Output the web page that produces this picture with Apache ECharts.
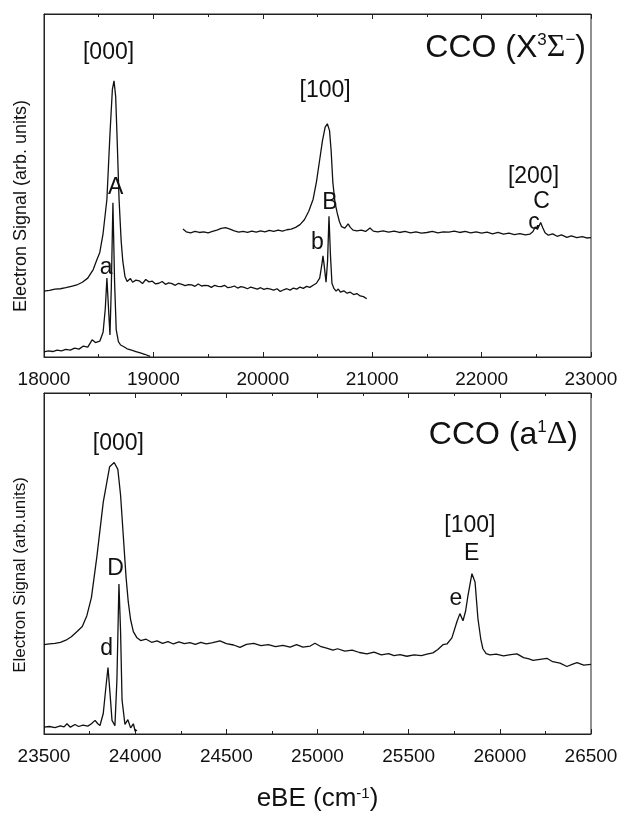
<!DOCTYPE html>
<html>
<head>
<meta charset="utf-8">
<script src="https://cdn.jsdelivr.net/npm/echarts@6/dist/echarts.min.js"></script>
<style>
  html, body { margin: 0; padding: 0; background: #fff; }
  #chart { width: 621px; height: 813px; }
</style>
</head>
<body>
<div id="chart"></div>
<script>
// ---- data (eBE in cm-1, signal in arb. units 0..100) ----

// upper panel, CCO (X) : broad [000] trace with the sharp b / B pair
var xTopMain = [18000, 18050, 18100, 18150, 18200, 18250, 18300, 18350, 18400, 18450, 18485, 18510, 18540, 18575, 18603, 18625, 18640, 18655, 18667, 18686, 18705, 18720, 18740, 18760, 18790, 18810, 18840, 18870, 18900, 18930, 18960, 18990, 19020, 19050, 19080, 19110, 19140, 19170, 19200, 19230, 19260, 19290, 19320, 19350, 19380, 19410, 19440, 19470, 19500, 19530, 19560, 19590, 19620, 19650, 19680, 19710, 19740, 19770, 19800, 19830, 19860, 19890, 19920, 19950, 19980, 20010, 20040, 20070, 20100, 20130, 20160, 20190, 20220, 20250, 20280, 20310, 20340, 20370, 20400, 20430, 20460, 20490, 20520, 20540, 20550, 20560, 20578, 20592, 20605, 20618, 20632, 20650, 20670, 20690, 20710, 20740, 20770, 20800, 20830, 20860, 20890, 20920, 20950];
var yTopMain = [19.2, 19.4, 19.8, 19.9, 20.2, 20.6, 21.0, 21.8, 23.0, 25.5, 28.5, 30.5, 36, 46, 65, 78, 80.5, 76, 65, 46, 34, 28, 23.5, 22.0, 22.9, 21.8, 22.4, 22.2, 21.4, 22.6, 21.9, 22.1, 21.3, 21.5, 22.0, 21.2, 21.6, 21.4, 20.9, 21.5, 21.2, 20.8, 21.1, 21.0, 20.6, 21.3, 20.7, 20.9, 20.8, 20.3, 20.9, 20.6, 20.5, 20.9, 20.2, 20.4, 20.7, 20.1, 20.5, 20.3, 19.9, 20.4, 20.1, 19.8, 20.2, 19.7, 20.0, 19.8, 19.5, 19.9, 19.1, 19.6, 19.9, 19.5, 20.1, 19.8, 20.4, 20.0, 20.6, 20.3, 20.9, 21.5, 23, 27, 29.5, 27, 21.8, 28, 41, 30, 21.5, 20.0, 19.2, 19.8, 18.9, 19.3, 18.6, 18.9, 18.2, 18.5, 17.8, 17.6, 17.0];

// upper panel: higher trace with the broad [100] and the small [200] C / c
var xTopHigh = [19270, 19300, 19340, 19380, 19420, 19460, 19500, 19540, 19580, 19620, 19660, 19700, 19740, 19780, 19820, 19860, 19900, 19940, 19980, 20020, 20060, 20100, 20140, 20180, 20220, 20260, 20300, 20340, 20380, 20420, 20460, 20490, 20520, 20545, 20570, 20590, 20610, 20625, 20640, 20660, 20680, 20700, 20720, 20750, 20780, 20800, 20825, 20860, 20900, 20940, 20980, 21010, 21050, 21100, 21150, 21200, 21250, 21300, 21350, 21400, 21450, 21500, 21550, 21600, 21650, 21700, 21750, 21800, 21850, 21900, 21950, 22000, 22050, 22100, 22150, 22200, 22250, 22300, 22350, 22400, 22440, 22470, 22490, 22510, 22540, 22560, 22580, 22610, 22650, 22690, 22730, 22780, 22820, 22870, 22920, 22960, 23000];
var yTopHigh = [37.3, 36.5, 36.2, 36.6, 36.3, 36.5, 36.2, 36.6, 37.0, 37.5, 37.7, 37.3, 36.8, 36.4, 36.6, 36.3, 36.7, 36.4, 36.8, 36.5, 36.9, 36.6, 37.0, 36.7, 37.1, 37.3, 37.8, 38.6, 40, 42.5, 46, 51, 57.5, 63, 67, 68, 66, 60, 51, 45, 42, 39.5, 38, 37.6, 38.8, 37.8, 37, 36.8, 37.0, 36.6, 37.6, 36.7, 36.5, 36.8, 36.4, 36.7, 36.3, 36.6, 36.2, 36.5, 36.1, 36.3, 36.6, 36.2, 36.5, 36.4, 36.7, 36.3, 36.6, 36.2, 36.5, 36.1, 36.4, 35.9, 36.3, 35.8, 36.1, 35.7, 36.0, 35.6, 35.8, 36.6, 37.9, 37.2, 39.2, 37.6, 36.2, 35.5, 35.9, 35.2, 35.6, 34.9, 35.3, 34.8, 35.1, 34.7, 34.8];

// upper panel: sharp a / A trace at the bottom
var xTopSharp = [18000, 18040, 18080, 18120, 18160, 18200, 18240, 18280, 18320, 18360, 18400, 18440, 18470, 18510, 18540, 18560, 18575, 18590, 18603, 18615, 18630, 18645, 18660, 18680, 18700, 18730, 18760, 18800, 18840, 18880, 18920, 18970];
var yTopSharp = [1.5, 1.8, 1.6, 2.0, 1.8, 2.2, 2.0, 2.6, 2.3, 3.2, 2.9, 5.0, 4.2, 4.6, 7.2, 14, 23, 14, 6.4, 20, 45, 22, 8, 4.5, 3.5, 3.0, 2.4, 2.0, 1.6, 1.2, 0.8, 0.2];

// lower panel, CCO (a) : broad trace with [000] and [100] e / E
var xLowMain = [23500, 23530, 23560, 23590, 23620, 23650, 23680, 23710, 23735, 23760, 23790, 23825, 23860, 23885, 23905, 23920, 23935, 23950, 23962, 23975, 23990, 24010, 24030, 24060, 24090, 24120, 24150, 24180, 24210, 24240, 24270, 24300, 24330, 24360, 24390, 24420, 24465, 24500, 24540, 24575, 24610, 24650, 24690, 24730, 24770, 24810, 24850, 24885, 24920, 24960, 24986, 25020, 25050, 25085, 25110, 25150, 25190, 25230, 25271, 25310, 25350, 25390, 25420, 25452, 25490, 25530, 25570, 25600, 25633, 25660, 25688, 25710, 25737, 25765, 25781, 25798, 25812, 25825, 25847, 25864, 25880, 25895, 25907, 25925, 25946, 25980, 26020, 26060, 26094, 26130, 26160, 26182, 26220, 26258, 26290, 26330, 26368, 26400, 26423, 26460, 26500];
var yLowMain = [26.2, 26.4, 26.6, 26.9, 27.5, 28.5, 30, 31.5, 34.7, 40, 52, 68, 78.4, 79.6, 77.6, 70, 58, 46, 38.8, 33.5, 30, 28.2, 27.4, 27.8, 26.9, 27.3, 26.6, 27.1, 26.4, 27.0, 26.5, 26.8, 26.3, 26.9, 26.4, 26.7, 27.3, 26.5, 26.1, 25.4, 26.3, 26.6, 25.9, 26.2, 25.6, 26.0, 25.5, 26.2, 25.5, 25.8, 26.6, 25.6, 25.2, 24.6, 25.0, 24.3, 24.6, 23.9, 23.5, 24.0, 23.2, 23.6, 23.0, 23.3, 22.8, 23.2, 23.0, 23.4, 23.8, 24.8, 26.2, 26.4, 28.2, 33, 35.3, 33.2, 36, 40.5, 47, 44.6, 33.8, 28, 25, 23.6, 23.2, 23.4, 22.9, 23.3, 23.5, 22.4, 22.0, 21.6, 21.9, 22.2, 21.2, 20.8, 19.8, 20.5, 20.9, 20.2, 20.4];

// lower panel: sharp d / D trace
var xLowSharp = [23500, 23530, 23560, 23590, 23610, 23626, 23645, 23670, 23690, 23714, 23740, 23760, 23780, 23795, 23807, 23825, 23840, 23851, 23862, 23873, 23889, 23900, 23911, 23920, 23928, 23944, 23960, 23975, 23990, 24000, 24010];
var yLowSharp = [2, 2.2, 1.9, 2.4, 2.1, 3.0, 2.0, 2.8, 2.2, 2.6, 2.3, 3.0, 4.0, 3.0, 2.5, 6, 14, 19.5, 12, 4, 2.4, 16, 44, 30, 10, 2.8, 4.2, 1.8, 3.0, 0.8, 1.2];

// peak labels (text, eBE, signal)
var topLabelText = ['[000]', 'A', 'a', '[100]', 'B', 'b', '[200]', 'C', 'c'];
var topLabelX = [18590, 18654, 18567, 20570, 20614, 20500, 22474, 22547, 22479];
var topLabelY = [88.6, 49.4, 26.1, 77.6, 44.9, 33.4, 52.5, 45.3, 39.2];

var lowLabelText = ['[000]', 'D', 'd', '[100]', 'E', 'e'];
var lowLabelX = [23908, 23893, 23844, 25836, 25845, 25759];
var lowLabelY = [85.1, 48.4, 25, 61, 52.8, 39.7];

var topTicks = [18000, 23000, 1000];
var lowTicks = [23500, 26500, 500];

function zip(xs, ys) {
  return xs.map(function (x, i) { return [x, ys[i]]; });
}
function zipLabels(txt, xs, ys) {
  return txt.map(function (t, i) { return [xs[i], ys[i], t]; });
}

var chart = echarts.init(document.getElementById('chart'), null, { renderer: 'canvas' });

var ink = '#111';
var font = 'Liberation Sans, Arial, sans-serif';

function bottomAxis(grid, ticks, extra) {
  var ax = {
    type: 'value', gridIndex: grid, position: 'bottom',
    min: ticks[0], max: ticks[1], interval: ticks[2],
    axisLine: { lineStyle: { color: '#222', width: 1 } },
    axisTick: { inside: true, length: 5, lineStyle: { color: '#222' } },
    minorTick: { show: true, splitNumber: 2, length: 3, lineStyle: { color: '#222' } },
    axisLabel: {
      color: ink, fontSize: 19, fontFamily: font, margin: 13,
      formatter: function (v) { return String(v); }
    },
    splitLine: { show: false }
  };
  return Object.assign(ax, extra || {});
}
function topAxis(grid, ticks) {
  return {
    type: 'value', gridIndex: grid, position: 'top',
    min: ticks[0], max: ticks[1], interval: ticks[2],
    axisLine: { lineStyle: { color: '#222', width: 1 } },
    axisTick: { inside: true, length: 5, lineStyle: { color: '#222' } },
    minorTick: { show: true, splitNumber: 2, length: 3, lineStyle: { color: '#222' } },
    axisLabel: { show: false },
    splitLine: { show: false }
  };
}
function yAx(grid) {
  return {
    type: 'value', gridIndex: grid, min: 0, max: 100,
    axisLine: { show: true, lineStyle: { color: '#222' } },
    axisTick: { show: false }, axisLabel: { show: false }, splitLine: { show: false }
  };
}
function trace(data, xi, yi) {
  return {
    type: 'line', xAxisIndex: xi, yAxisIndex: yi, data: data,
    showSymbol: false, symbol: 'none', silent: true,
    lineStyle: { color: ink, width: 1.3 }
  };
}
function labels(data, xi, yi) {
  return {
    type: 'scatter', xAxisIndex: xi, yAxisIndex: yi, data: data,
    symbolSize: 0, silent: true,
    itemStyle: { opacity: 1, color: ink },
    label: {
      show: true, position: 'inside', color: ink, fontSize: 23, fontFamily: font,
      formatter: function (p) { return p.value[2]; }
    }
  };
}

var richTitle = {
  n: { fontSize: 32, fontFamily: font, fontWeight: 'normal', color: ink },
  g: { fontSize: 32, fontFamily: 'Liberation Serif, serif', fontWeight: 'normal', color: ink },
  s: { fontSize: 17, fontFamily: font, fontWeight: 'normal', color: ink, verticalAlign: 'top' }
};

var option = {
  animation: false,
  backgroundColor: '#fff',
  title: [{
    text: '{n|CCO (X}{s|3}{g|Σ}{s|−}{n|)}',
    right: 35, top: 32, padding: 0,
    textStyle: { fontWeight: 'normal', rich: richTitle }
  }, {
    text: '{n|CCO (a}{s|1}{g|Δ}{n|)}',
    right: 43, top: 419, padding: 0,
    textStyle: { fontWeight: 'normal', rich: richTitle }
  }],
  grid: [
    { left: 44, top: 14, width: 547, height: 343, show: true, borderColor: '#222', borderWidth: 1 },
    { left: 44, top: 393, width: 547, height: 343, show: true, borderColor: '#222', borderWidth: 1 }
  ],
  xAxis: [
    bottomAxis(0, topTicks),
    topAxis(0, topTicks),
    bottomAxis(1, lowTicks, {
      name: '{n|eBE (cm}{s|-1}{n|)}',
      nameLocation: 'middle', nameGap: 52,
      nameTextStyle: {
        rich: {
          n: { fontSize: 26, fontFamily: font, color: ink },
          s: { fontSize: 15, fontFamily: font, color: ink, verticalAlign: 'top' }
        }
      }
    }),
    topAxis(1, lowTicks)
  ],
  yAxis: [yAx(0), yAx(1)],
  graphic: [{
    type: 'text', x: 21, y: 206, rotation: Math.PI / 2,
    style: { text: 'Electron Signal (arb. units)', fill: ink, font: '18px ' + font, align: 'center', verticalAlign: 'middle' }
  }, {
    type: 'text', x: 20, y: 575, rotation: Math.PI / 2,
    style: { text: 'Electron Signal (arb.units)', fill: ink, font: '17px ' + font, align: 'center', verticalAlign: 'middle' }
  }],
  series: [
    trace(zip(xTopMain, yTopMain), 0, 0),
    trace(zip(xTopHigh, yTopHigh), 0, 0),
    trace(zip(xTopSharp, yTopSharp), 0, 0),
    labels(zipLabels(topLabelText, topLabelX, topLabelY), 0, 0),
    trace(zip(xLowMain, yLowMain), 2, 1),
    trace(zip(xLowSharp, yLowSharp), 2, 1),
    labels(zipLabels(lowLabelText, lowLabelX, lowLabelY), 2, 1)
  ]
};

chart.setOption(option);
</script>
</body>
</html>
